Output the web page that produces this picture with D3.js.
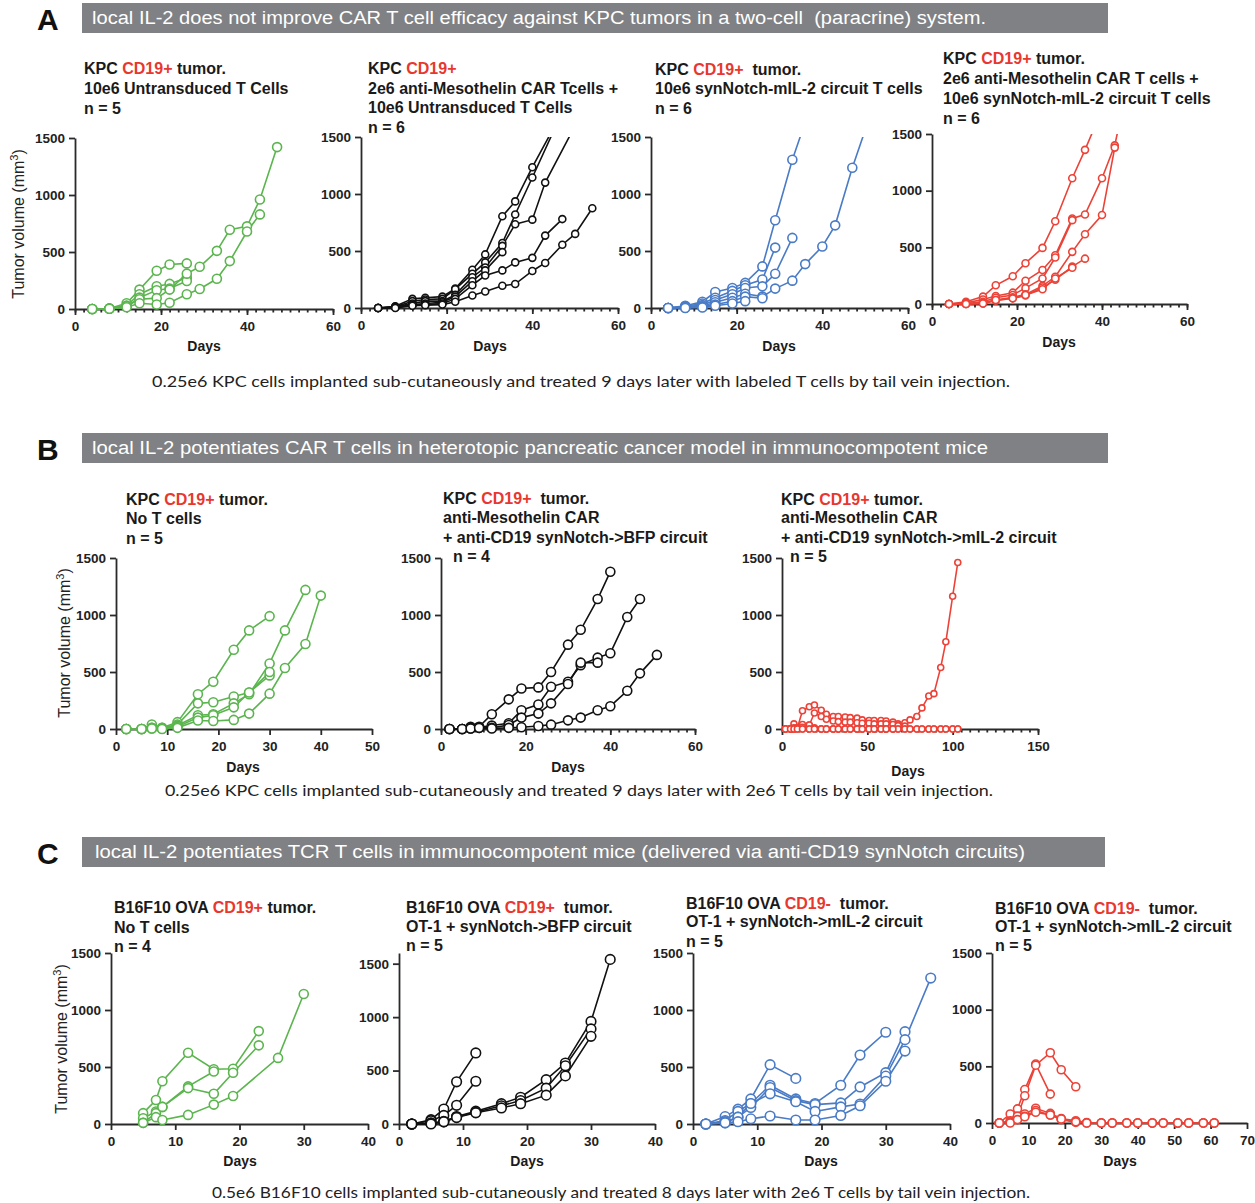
<!DOCTYPE html>
<meta charset="utf-8">
<style>
body { margin: 0; background: #fff; }
svg text { font-family: "Liberation Sans", Arial, sans-serif; }
.axis path, .axis line { stroke: #2a2a2a; stroke-width: 1.8px; }
.axis text { font-size: 13.5px; font-weight: bold; fill: #222; }
.title { font-size: 16px; font-weight: bold; fill: #1a1a1a; white-space: pre; }
.red { fill: #e8372f; }
.days { font-size: 14px; font-weight: bold; fill: #1a1a1a; }
.ylab { font-size: 16px; fill: #222; }
.caption { font-family: Lato, "Open Sans", sans-serif !important; font-size: 16px; fill: #222; }
.header { font-size: 18px; fill: #fff; white-space: pre; }
.letter { font-size: 30px; font-weight: bold; fill: #111; }
</style>
<svg width="1255" height="1203"></svg>
<script src="https://cdn.jsdelivr.net/npm/d3@7"></script>
<script>

var GREEN = "#5bb54e", BLACK = "#111111", BLUE = "#4a7bc6", RED = "#ec4237";

// ---- data (tumor volume, mm3) ----
// row A
var a1Days = [4, 8, 12, 15, 19, 22, 26, 29, 33, 36, 40, 43, 47];
var a1Mice = [
  [0, 5, 50, 170, 335, 390, 400],
  [0, 5, 30, 130, 200, 220, 275],
  [0, 3, 20, 100, 165, 180, 245],
  [0, 3, 25, 85, 95, 170, 310, 370, 510, 695, 725, 960, 1420],
  [0, 2, 15, 50, 40, 55, 130, 175, 265, 420, 680, 830]
];
var a2Days = [4, 8, 12, 15, 19, 22, 26, 29, 33, 36, 40, 43, 47, 50, 54];
var a2Mice = [
  [0, 15, 80, 90, 100, 170, 335, 470, 805, 935, 1235, null, 1720],
  [0, 10, 60, 75, 80, 165, 300, 400, 570, 820, 1145, null, 1720],
  [0, 10, 40, 60, 60, 115, 270, 355, 545, 735, 775, 1100, null, 1600],
  [0, 5, 30, 40, 50, 100, 235, 330, 490],
  [0, 5, 25, 30, 40, 80, 200, 285, 330, 400, 440, 635, 780],
  [0, 0, 20, 25, 30, 55, 110, 145, 195, 210, 325, 395, 555, 650, 875]
];
var a3Days = [4, 8, 12, 15, 19, 22, 26, 29, 33, 36, 40, 43, 47, 54];
var a3Mice = [
  [0, 20, 55, 140, 175, 220, 365, 770, 1300, 1630],
  [0, 15, 40, 90, 150, 200, 250, 530],
  [0, 10, 25, 70, 120, 175, 190, 300, 615],
  [0, 5, 15, 50, 90, 125, 100, 170, 240, 385, 540, 725, 1230, 2000],
  [0, 5, 10, 30, 60, 100, 85],
  [0, 0, 5, 20, 40, 60]
];
var a4Days = [4, 8, 12, 15, 19, 22, 26, 29, 33, 36, 40, 43, 47];
var a4Mice = [
  [0, 20, 65, 165, 245, 360, 495, 730, 1110, 1360, 1715],
  [0, 10, 40, 70, 100, 205, 300, 430, 755, 790, 1110, 1400, 2100],
  [0, 5, 20, 55, 80, 140, 225, 410, 740],
  [0, 0, 10, 35, 60, 85, 160, 240, 460, 615, 785, 1380],
  [0, 0, 5, 30, 50, 75, 145, 215, 330, 400],
  [0, 0, 5, 35, 50, 80, 130, 225, 320]
];
// row B
var b1Days = [2, 5, 7, 9, 12, 16, 19, 23, 26, 30, 33, 37, 40];
var b1Mice = [
  [0, 0, 40, 10, 60, 305, 415, 695, 865, 990],
  [0, 0, 10, 10, 40, 225, 235, 285, 320, 470],
  [0, 0, 10, 5, 30, 120, 130, 225, 305, 575, 865, 1220],
  [0, 0, 5, 5, 20, 100, 120, 190, 320, 500],
  [0, 0, 5, 0, 10, 75, 70, 80, 135, 310, 535, 745, 1170]
];
var b2Days = [2, 5, 7, 9, 12, 16, 19, 23, 26, 30, 33, 37, 40, 44, 47, 51];
var b2Mice = [
  [0, 0, 20, 20, 130, 260, 355, 365, 500, 740, 870, 1140, 1380],
  [0, 0, 10, 15, 30, 50, 165, 215, 370, 415, 560, 626, 665, 982, 1141],
  [0, 0, 5, 10, 10, 35, 100, 135, 225, 395, 582, 582],
  [0, 0, 5, 10, 5, 10, 15, 26, 38, 76, 100, 165, 200, 335, 488, 650]
];
var b3Days = [2, 5, 7, 9, 12, 16, 19, 23, 26, 30, 33, 37, 40, 44, 47, 51, 54, 58, 61, 65, 68, 72, 75, 79, 82, 86, 89, 93, 96, 100, 103];
var b3Mice = [
  [0, 5, 45, 10, 160, 195, 210, 165, 130, 110, 110, 105, 100, 95, 80, 75, 75, 75, 70, 60, 45, 55, 80, 110, 185, 290, 310, 540, 765, 1165, 1460],
  [0, 0, 10, 10, 40, 35, 140, 110, 85, 70, 65, 60, 60, 55, 50, 50, 45, 45, 45, 40, 30, 25],
  [0, 0, 0, 5, 15, 35, 10, 0, 0, 0, 0, 0, 0, 0, 0, 0, 0, 0, 0, 0, 0, 0, 0, 0, 0, 0, 0, 0, 0, 0, 0],
  [0, 0, 0, 0, 0, 0, 0, 0, 0, 0, 0, 0, 0, 0, 0, 0, 0, 0, 0, 0, 0, 0, 0, 0, 0, 0, 0, 0, 0, 0, 0],
  [0, 0, 0, 0, 0, 0, 0, 0, 0, 0, 0, 0, 0, 0, 0, 0, 0, 0, 0, 0]
];
// row C
var c1Days = [5, 7, 8, 12, 16, 19, 23, 26, 30];
var c1Mice = [
  [95, 210, 375, 625, 480, 485, 815],
  [50, 110, 150, 330, 460],
  [10, 95, 150, 315, 265, 450, 690],
  [10, 60, 35, 80, 170, 245, null, 580, 1140]
];
var c2Days = [2, 5, 7, 9, 12, 16, 19, 23, 26, 30, 33];
var c2Mice = [
  [0, 40, 140, 395, 665],
  [0, 30, 80, 175, 400],
  [0, 10, 20, 70, 120, 190, 250, 415, 570, 960, 1540],
  [0, 5, 25, 65, 110, 170, 220, 335, 545, 890],
  [0, 0, 20, 60, 105, 150, 190, 270, 450, 820]
];
var c3Days = [2, 5, 7, 9, 12, 16, 19, 23, 26, 30, 33, 37];
var c3Mice = [
  [0, 65, 130, 220, 520, 400],
  [0, 30, 110, 180, 340, 220, 180, 340, 605, 805],
  [0, 20, 60, 145, 320, 205, 170, 185, 325, 450, 810],
  [0, 10, 60, 180, 265, 195, 110, 150, 175, 420, 740, 1280],
  [0, 10, 20, 45, 70, 35, 35, 75, 160, 375, 640]
];
var c4Days = [2, 5, 7, 9, 12, 16, 19, 23, 26, 30, 33, 37, 40, 44, 47, 51, 54, 58, 61];
var c4Mice = [
  [0, 80, 125, 295, 520, 255],
  [0, 20, 60, 240, 510, 620, 470, 320],
  [0, 10, 30, 80, 130, 85, 40, 20, 5, 0, 0, 0, 0, 0, 0, 0, 0, 0, 0],
  [0, 5, 60, 60, 110, 70, 30, 5, 0, 0, 0, 0, 0, 0, 0, 0, 0, 0, 0],
  [0, 0, 30, 55, 95, 70, 35, 10, 0, 0, 0, 0, 0, 0, 0, 0, 0, 0, 0]
];

var yTicks = [0, 500, 1000, 1500];

// ---- section headers ----
var sections = [
  {letter: "A", y: 3, text: "local IL-2 does not improve CAR T cell efficacy against KPC tumors in a two-cell  (paracrine) system.", tx: 92, tw: 894, barW: 1026},
  {letter: "B", y: 433, text: "local IL-2 potentiates CAR T cells in heterotopic pancreatic cancer model in immunocompotent mice", tx: 92, tw: 896, barW: 1026},
  {letter: "C", y: 837, text: "local IL-2 potentiates TCR T cells in immunocompotent mice (delivered via anti-CD19 synNotch circuits)", tx: 95, tw: 930, barW: 1023}
];
var captions = [
  {text: "0.25e6 KPC cells implanted sub-cutaneously and treated 9 days later with labeled T cells by tail vein injection.", x: 152, y: 387, w: 858},
  {text: "0.25e6 KPC cells implanted sub-cutaneously and treated 9 days later with 2e6 T cells by tail vein injection.", x: 165, y: 796, w: 828},
  {text: "0.5e6 B16F10 cells implanted sub-cutaneously and treated 8 days later with 2e6 T cells by tail vein injection.", x: 212, y: 1198, w: 818}
];

// ---- panel layouts ----
var panels = [
  {days: a1Days, mice: a1Mice, color: GREEN, r: 4.5, x0: 75, x1: 333, xMax: 60, major: 20, minor: 2, y0: 309, y1: 138, yMax: 1500,
   days_x: 204, days_y: 351, ylab: {x: 24, y: 224},
   title: [{t: "KPC {CD19+} tumor.", x: 84, y: 74}, {t: "10e6 Untransduced T Cells", x: 84, y: 94}, {t: "n = 5", x: 84, y: 114}]},
  {days: a2Days, mice: a2Mice, color: BLACK, r: 3.5, x0: 361, x1: 618, xMax: 60, major: 20, minor: 2, y0: 308, y1: 137, yMax: 1500,
   days_x: 490, days_y: 351,
   title: [{t: "KPC {CD19+}", x: 368, y: 74}, {t: "2e6 anti-Mesothelin CAR Tcells +", x: 368, y: 94}, {t: "10e6 Untransduced T Cells", x: 368, y: 113}, {t: "n = 6", x: 368, y: 133}]},
  {days: a3Days, mice: a3Mice, color: BLUE, r: 4.5, x0: 651, x1: 908, xMax: 60, major: 20, minor: 2, y0: 308, y1: 137, yMax: 1500,
   days_x: 779, days_y: 351,
   title: [{t: "KPC {CD19+}  tumor.", x: 655, y: 75}, {t: "10e6 synNotch-mIL-2 circuit T cells", x: 655, y: 94}, {t: "n = 6", x: 655, y: 114}]},
  {days: a4Days, mice: a4Mice, color: RED, r: 3.5, x0: 932, x1: 1187, xMax: 60, major: 20, minor: 2, y0: 304, y1: 134, yMax: 1500,
   days_x: 1059, days_y: 347,
   title: [{t: "KPC {CD19+} tumor.", x: 943, y: 64}, {t: "2e6 anti-Mesothelin CAR T cells +", x: 943, y: 84}, {t: "10e6 synNotch-mIL-2 circuit T cells", x: 943, y: 104}, {t: "n = 6", x: 943, y: 124}]},

  {days: b1Days, mice: b1Mice, color: GREEN, r: 4.5, x0: 116, x1: 372, xMax: 50, major: 10, minor: 0, y0: 729, y1: 558, yMax: 1500,
   days_x: 243, days_y: 772, ylab: {x: 70, y: 643},
   title: [{t: "KPC {CD19+} tumor.", x: 126, y: 505}, {t: "No T cells", x: 126, y: 524}, {t: "n = 5", x: 126, y: 544}]},
  {days: b2Days, mice: b2Mice, color: BLACK, r: 4.5, x0: 441, x1: 695, xMax: 60, major: 20, minor: 2, y0: 729, y1: 558, yMax: 1500,
   days_x: 568, days_y: 772,
   title: [{t: "KPC {CD19+}  tumor.", x: 443, y: 504}, {t: "anti-Mesothelin CAR", x: 443, y: 523}, {t: "+ anti-CD19 synNotch->BFP circuit", x: 443, y: 543}, {t: "n = 4", x: 453, y: 562}]},
  {days: b3Days, mice: b3Mice, color: RED, r: 3, x0: 782, x1: 1038, xMax: 150, major: 50, minor: 5, y0: 729, y1: 558, yMax: 1500,
   days_x: 908, days_y: 776,
   title: [{t: "KPC {CD19+} tumor.", x: 781, y: 505}, {t: "anti-Mesothelin CAR", x: 781, y: 523}, {t: "+ anti-CD19 synNotch->mIL-2 circuit", x: 781, y: 543}, {t: "n = 5", x: 790, y: 562}]},

  {days: c1Days, mice: c1Mice, color: GREEN, r: 4.5, x0: 111, x1: 368, xMax: 40, major: 10, minor: 0, y0: 1124, y1: 953, yMax: 1500,
   days_x: 240, days_y: 1166, ylab: {x: 67, y: 1039},
   title: [{t: "B16F10 OVA {CD19+} tumor.", x: 114, y: 913}, {t: "No T cells", x: 114, y: 933}, {t: "n = 4", x: 114, y: 952}]},
  {days: c2Days, mice: c2Mice, color: BLACK, r: 4.8, x0: 399, x1: 655, xMax: 40, major: 10, minor: 0, y0: 1124, y1: 953, yMax: 1600,
   days_x: 527, days_y: 1166,
   title: [{t: "B16F10 OVA {CD19+}  tumor.", x: 406, y: 913}, {t: "OT-1 + synNotch->BFP circuit", x: 406, y: 932}, {t: "n = 5", x: 406, y: 951}]},
  {days: c3Days, mice: c3Mice, color: BLUE, r: 4.8, x0: 693, x1: 950, xMax: 40, major: 10, minor: 0, y0: 1124, y1: 953, yMax: 1500,
   days_x: 821, days_y: 1166,
   title: [{t: "B16F10 OVA {CD19-}  tumor.", x: 686, y: 909}, {t: "OT-1 + synNotch->mIL-2 circuit", x: 686, y: 927}, {t: "n = 5", x: 686, y: 947}]},
  {days: c4Days, mice: c4Mice, color: RED, r: 4, x0: 992, x1: 1247, xMax: 70, major: 10, minor: 0, y0: 1123, y1: 953, yMax: 1500,
   days_x: 1120, days_y: 1166,
   title: [{t: "B16F10 OVA {CD19-}  tumor.", x: 995, y: 914}, {t: "OT-1 + synNotch->mIL-2 circuit", x: 995, y: 932}, {t: "n = 5", x: 995, y: 951}]}
];

var svg = d3.select("svg");

// headers
sections.forEach(function(s) {
  svg.append("text").attr("class", "letter").attr("x", 37).attr("y", s.y + 27).text(s.letter);
  svg.append("rect").attr("x", 82).attr("y", s.y).attr("width", s.barW).attr("height", 30).attr("fill", "#808184");
  svg.append("text").attr("class", "header").attr("x", s.tx).attr("y", s.y + 21)
    .attr("textLength", s.tw).attr("lengthAdjust", "spacingAndGlyphs").text(s.text);
});
captions.forEach(function(c) {
  svg.append("text").attr("class", "caption").attr("x", c.x).attr("y", c.y)
    .attr("textLength", c.w).attr("lengthAdjust", "spacingAndGlyphs").text(c.text);
});

panels.forEach(function(p, i) {
  var x = d3.scaleLinear().domain([0, p.xMax]).range([p.x0, p.x1]);
  var y = d3.scaleLinear().domain([0, p.yMax]).range([p.y0, p.y1]);
  var g = svg.append("g");

  // title lines, red for the CD19 marker
  p.title.forEach(function(l) {
    var t = g.append("text").attr("class", "title").attr("x", l.x).attr("y", l.y);
    l.t.split(/(\{[^}]+\})/).forEach(function(part) {
      if (!part) return;
      var red = part[0] == "{";
      t.append("tspan").attr("class", red ? "red" : null).text(red ? part.slice(1, -1) : part);
    });
  });

  // axes
  if (p.minor) {
    g.append("g").attr("class", "axis").attr("transform", "translate(0," + p.y0 + ")")
      .call(d3.axisBottom(x).tickValues(d3.range(0, p.xMax + 1e-6, p.minor)).tickSize(3.5).tickFormat(""))
      .call(function(a) { a.select(".domain").remove(); });
  }
  g.append("g").attr("class", "axis").attr("transform", "translate(0," + p.y0 + ")")
    .call(d3.axisBottom(x).tickValues(d3.range(0, p.xMax + 1e-6, p.major)).tickSize(6).tickSizeOuter(0).tickPadding(6));
  g.append("g").attr("class", "axis").attr("transform", "translate(" + p.x0 + ",0)")
    .call(d3.axisLeft(y).tickValues(yTicks).tickFormat(d3.format("d")).tickSize(6).tickSizeOuter(0).tickPadding(4));

  g.append("text").attr("class", "days").attr("x", p.days_x).attr("y", p.days_y)
    .attr("text-anchor", "middle").text("Days");

  if (p.ylab) {
    var yl = g.append("text").attr("class", "ylab").attr("text-anchor", "middle")
      .attr("transform", "translate(" + p.ylab.x + "," + p.ylab.y + ") rotate(-90)");
    yl.append("tspan").text("Tumor volume (mm");
    yl.append("tspan").attr("dy", -6).style("font-size", "11px").text("3");
    yl.append("tspan").attr("dy", 6).text(")");
  }

  // lines are clipped at the top of the y axis
  var clipId = "clip" + i;
  svg.append("clipPath").attr("id", clipId).append("rect")
    .attr("x", p.x0 - 10).attr("y", p.y1).attr("width", p.x1 - p.x0 + 20).attr("height", p.y0 - p.y1 + 20);

  var series = p.mice.map(function(m) {
    return p.days.map(function(d, j) { return {day: d, v: m[j]}; })
      .filter(function(d) { return d.v != null; });
  });

  var line = d3.line().x(function(d) { return x(d.day); }).y(function(d) { return y(d.v); });

  g.append("g").attr("clip-path", "url(#" + clipId + ")")
    .selectAll("path").data(series).enter().append("path")
    .attr("d", line).attr("fill", "none").attr("stroke", p.color).attr("stroke-width", 1.6);

  series.forEach(function(s) {
    g.append("g").selectAll("circle")
      .data(s.filter(function(d) { return d.v <= p.yMax; }))
      .enter().append("circle")
      .attr("cx", function(d) { return x(d.day); })
      .attr("cy", function(d) { return y(d.v); })
      .attr("r", p.r)
      .attr("fill", "#fff").attr("stroke", p.color).attr("stroke-width", 1.6);
  });
});

</script>
